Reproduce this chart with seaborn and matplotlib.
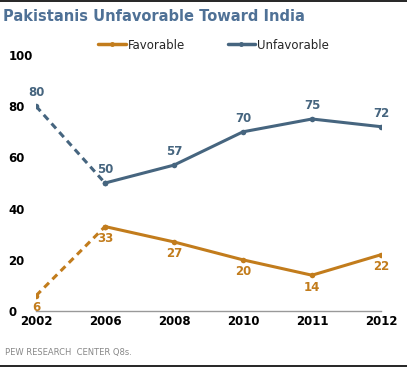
import matplotlib
matplotlib.use("Agg")
import matplotlib.pyplot as plt
import seaborn as sns
import pandas as pd
from matplotlib.lines import Line2D

years = ["2002", "2006", "2008", "2010", "2011", "2012"]
favorable = [6, 33, 27, 20, 14, 22]
unfavorable = [80, 50, 57, 70, 75, 72]
yticks = [0, 20, 40, 60, 80, 100]

ORANGE = "#c27c1c"
BLUE = "#46657f"

sns.set_style("white")
plt.rcParams["font.family"] = ["DejaVu Sans"]

fig = plt.figure(figsize=(4.07, 3.69), dpi=100)
ax = fig.add_axes([0.0885, 0.157, 0.8475, 0.694])

idx = list(range(len(years)))
df = pd.DataFrame({"x": idx, "fav": favorable, "unf": unfavorable})
dash_part = df.iloc[:2]
solid_part = df.iloc[1:]

for col, color in [("fav", ORANGE), ("unf", BLUE)]:
    sns.lineplot(data=solid_part, x="x", y=col, ax=ax, color=color, lw=2.2,
                 marker="o", markersize=4, markeredgewidth=0)
    sns.lineplot(data=dash_part, x="x", y=col, ax=ax, color=color, lw=2.2,
                 linestyle=(0, (2.2, 1.6)), marker="o", markersize=4, markeredgewidth=0)

for i, (f, u) in enumerate(zip(favorable, unfavorable)):
    ax.annotate(str(u), (i, u), xytext=(0, 5), textcoords="offset points",
                ha="center", va="bottom", color=BLUE, fontsize=8.5, fontweight="bold")
    ax.annotate(str(f), (i, f), xytext=(0, -4), textcoords="offset points",
                ha="center", va="top", color=ORANGE, fontsize=8.5, fontweight="bold")

ax.set_xlim(0, 5)
ax.set_ylim(0, 100)
ax.set_xticks(idx)
ax.set_xticklabels(years, fontweight="bold", fontsize=8.5)
ax.set_yticks(yticks)
ax.set_yticklabels([str(t) for t in yticks], fontweight="bold", fontsize=8.5)
ax.set_xlabel("")
ax.set_ylabel("")
for s in ["top", "right", "left"]:
    ax.spines[s].set_visible(False)
ax.spines["bottom"].set_color("#999999")
ax.spines["bottom"].set_linewidth(1)
ax.tick_params(axis="x", direction="in", length=4, color="#999999", width=1, pad=3, labelcolor="black")
ax.tick_params(axis="y", length=0, pad=20, labelcolor="black")
for lab in ax.get_yticklabels():
    lab.set_horizontalalignment("left")

handles = [Line2D([0], [0], color=ORANGE, lw=2.5, marker="o", markersize=2.5),
           Line2D([0], [0], color=BLUE, lw=2.5, marker="o", markersize=2.5)]
fig.legend(handles, ["Favorable", "Unfavorable"], loc="center", ncol=2,
           bbox_to_anchor=(0.525, 0.878), frameon=False, fontsize=8.5,
           handlelength=2.3, handletextpad=0.2, columnspacing=3.6)

fig.text(0.008, 0.955, "Pakistanis Unfavorable Toward India", fontsize=10.5,
         fontweight="bold", color="#4f7196", va="center", ha="left")
fig.text(0.012, 0.046, "PEW RESEARCH  CENTER Q8s.", fontsize=6, color="#888888",
         va="center", ha="left")
fig.add_artist(Line2D([0, 1], [0.997, 0.997], color="black", lw=1.2, transform=fig.transFigure))
fig.add_artist(Line2D([0, 1], [0.009, 0.009], color="black", lw=1.2, transform=fig.transFigure))

fig.savefig("out.png", dpi=100)
